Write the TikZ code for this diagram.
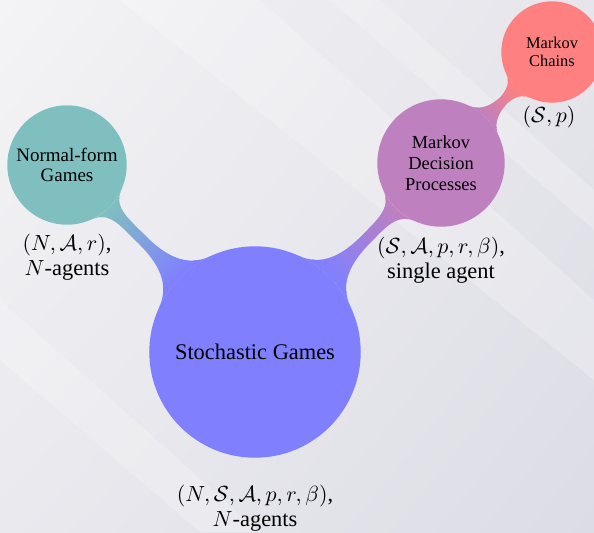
\documentclass[tikz,border=0pt]{standalone}
\usepackage{fontspec}
\setmainfont{Liberation Serif}
\usetikzlibrary{mindmap,shadings,backgrounds}
\definecolor{bgA}{RGB}{244,244,246}
\definecolor{bgB}{RGB}{229,229,235}
\definecolor{bgC}{RGB}{233,233,238}
\definecolor{bgD}{RGB}{220,220,229}
\begin{document}
\begin{tikzpicture}[x=0.5pt,y=-0.5pt,
  conc/.style={circle, inner sep=0pt, align=center, text=black, line width=0.7pt},
  lbl/.style={align=center, font=\fontsize{11.2}{12.6}\selectfont, inner sep=0pt},
  streak/.style={white, opacity=0.22},
]
\useasboundingbox (0,0) rectangle (594,532);
% background
\begin{pgfonlayer}{background}
\shade[upper left=bgA, upper right=bgB, lower left=bgC, lower right=bgD] (0,0) rectangle (594,532);
\fill[streak] (120,0) -- (260,0) -- (594,300) -- (594,380) -- cycle;
\fill[streak] (0,300) -- (0,360) -- (200,532) -- (260,532) -- cycle;
\fill[streak] (330,0) -- (380,0) -- (594,190) -- (594,230) -- cycle;
\end{pgfonlayer}
% concepts
\node[conc, fill=blue!50, draw=blue!50, minimum size=105pt, font=\fontsize{11.2}{13}\selectfont] (sg) at (255,352) {Stochastic Games};
\node[conc, fill=teal!50, draw=teal!50, minimum size=59pt, font=\fontsize{9.5}{10}\selectfont] (nf) at (67,165) {Normal-form\\Games};
\node[conc, fill=violet!50, draw=violet!50, minimum size=63pt, font=\fontsize{9.2}{10.5}\selectfont] (mdp) at (441,163) {Markov\\Decision\\Processes};
\node[conc, fill=red!50, draw=red!50, minimum size=50pt, font=\fontsize{8.2}{9}\selectfont] (mc) at (552,52) {Markov\\Chains};
% connections
\begin{pgfonlayer}{background}
\path (sg) to[circle connection bar switch color=from (blue!50) to (teal!50)] (nf);
\path (sg) to[circle connection bar switch color=from (blue!50) to (violet!50)] (mdp);
\path (mdp) to[circle connection bar switch color=from (violet!50) to (red!50)] (mc);
\end{pgfonlayer}
% labels
\node[lbl] (nfl) at (67,257) {$(N,\mathcal{A},r)$,\\$N$-agents};
\node[lbl] (mdpl) at (441,260) {$(\mathcal{S},\mathcal{A},p,r,\beta)$,\\single agent};
\node[lbl] (mcl) at (549,117) {$(\mathcal{S},p)$};
\node[lbl] (sgl) at (255,508) {$(N,\mathcal{S},\mathcal{A},p,r,\beta)$,\\$N$-agents};
\end{tikzpicture}
\end{document}
